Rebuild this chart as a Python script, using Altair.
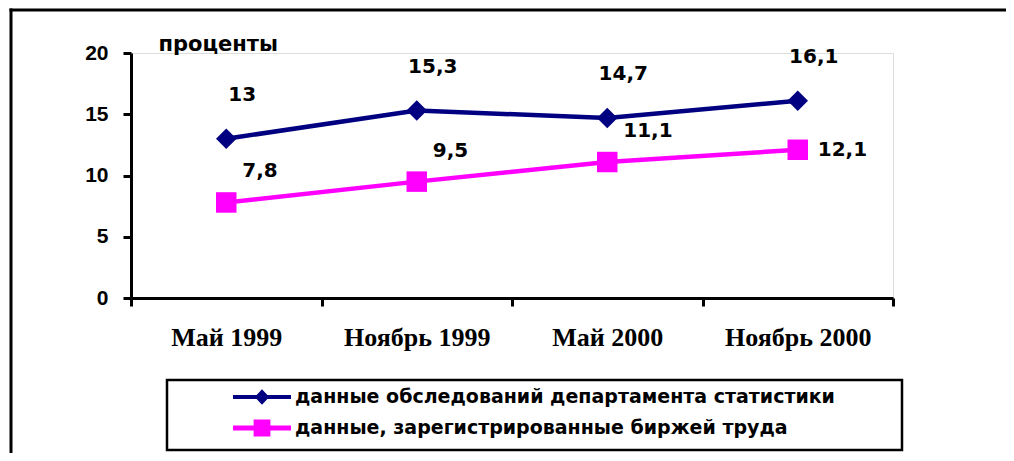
import altair as alt
import pandas as pd

months = ["Май 1999", "Ноябрь 1999", "Май 2000", "Ноябрь 2000"]
survey = [13, 15.3, 14.7, 16.1]
registered = [7.8, 9.5, 11.1, 12.1]
s1 = "данные обследований департамента статистики"
s2 = "данные, зарегистрированные биржей труда"
series_names = [s1, s2]
series_colors = ["#000080", "#FF00FF"]
y_ticks = [0, 5, 10, 15, 20]


def fmt(v):
    return str(v).replace(".", ",")


rows = []
for m, v in zip(months, survey):
    rows.append({"month": m, "value": v, "series": s1, "label": fmt(v)})
for m, v in zip(months, registered):
    rows.append({"month": m, "value": v, "series": s2, "label": fmt(v)})
df = pd.DataFrame(rows)

W, H = 762, 245

axis_style = dict(
    domainColor="black",
    domainWidth=3,
    tickColor="black",
    tickWidth=3,
    tickSize=8,
    grid=False,
)

x_enc = alt.X(
    "month:N",
    sort=months,
    bandPosition=0.5,
    scale=alt.Scale(type="band", paddingInner=0, paddingOuter=0),
    axis=alt.Axis(
        title=None,
        labelAngle=0,
        tickBand="extent",
        labelFont="Liberation Serif",
        labelFontWeight="bold",
        labelFontSize=26,
        labelColor="black",
        labelPadding=18,
        **axis_style,
    ),
)
y_enc = alt.Y(
    "value:Q",
    scale=alt.Scale(domain=[0, 20], nice=False),
    axis=alt.Axis(
        values=y_ticks,
        title="проценты",
        titleAngle=0,
        titleX=27,
        titleY=-3,
        titleAlign="left",
        titleBaseline="alphabetic",
        titleFont="DejaVu Sans",
        titleFontWeight="bold",
        titleFontSize=21,
        titleColor="black",
        labelFont="Liberation Sans",
        labelFontWeight="bold",
        labelFontSize=21,
        labelColor="black",
        labelPadding=15,
        **axis_style,
    ),
)
color_scale = alt.Scale(domain=series_names, range=series_colors)

base = alt.Chart(df)

lines = base.mark_line(strokeWidth=4.5).encode(
    x=x_enc,
    y=y_enc,
    color=alt.Color("series:N", scale=color_scale, legend=None),
    detail="series:N",
)

points = base.mark_point(filled=True, opacity=1, size=420).encode(
    x=x_enc,
    y=y_enc,
    color=alt.Color("series:N", scale=color_scale, legend=None),
    shape=alt.Shape(
        "series:N",
        scale=alt.Scale(domain=series_names, range=["diamond", "square"]),
        legend=None,
    ),
)

# legend symbols: line segment plus marker, in symbol units
path1 = "M-1,-0.07L1,-0.07L1,0.07L-1,0.07Z M0,-0.27L0.25,0L0,0.27L-0.25,0Z"
path2 = "M-1,-0.085L1,-0.085L1,0.085L-1,0.085Z M-0.29,-0.29L0.29,-0.29L0.29,0.29L-0.29,0.29Z"
legend_paths = [path1, path2]
legend_rows_y = [315, 346]

legend_common = dict(
    title=None,
    orient="none",
    legendX=102,
    padding=0,
    symbolSize=3364,
    symbolStrokeWidth=0,
    symbolOpacity=1,
    labelOffset=4,
    labelLimit=2000,
    labelFont="DejaVu Sans",
    labelFontWeight="bold",
    labelFontSize=19,
    labelColor="black",
)

legend_layers = []
for name, col, pth, ly in zip(series_names, series_colors, legend_paths, legend_rows_y):
    legend_layers.append(
        base.transform_filter(alt.datum.series == name)
        .mark_point(filled=True, opacity=0, size=10)
        .encode(
            x=x_enc,
            y=y_enc,
            color=alt.Color(
                "series:N",
                scale=alt.Scale(domain=[name], range=[col]),
                legend=alt.Legend(symbolType=pth, legendY=ly, **legend_common),
            ),
        )
    )

lbl_font = dict(font="DejaVu Sans", fontWeight="bold", fontSize=20, color="black")

labels_blue = base.transform_filter(alt.datum.series == s1).mark_text(
    dx=16, dy=-44, align="center", baseline="middle", **lbl_font
).encode(x=x_enc, y=y_enc, text="label:N")

labels_pink = base.transform_filter(
    (alt.datum.series == s2) & (alt.datum.month != months[-1])
).mark_text(dx=16, dy=-31, align="left", baseline="middle", **lbl_font).encode(
    x=x_enc, y=y_enc, text="label:N"
)

labels_pink_last = base.transform_filter(
    (alt.datum.series == s2) & (alt.datum.month == months[-1])
).mark_text(dx=20, dy=0, align="left", baseline="middle", **lbl_font).encode(
    x=x_enc, y=y_enc, text="label:N"
)

one = pd.DataFrame({"k": [0]})
frame_top = alt.Chart(one).mark_rule(stroke="black", strokeWidth=3).encode(
    x=alt.value(-121.5), x2=alt.value(1500), y=alt.value(-43), y2=alt.value(-43)
)
frame_left = alt.Chart(one).mark_rule(stroke="black", strokeWidth=3).encode(
    x=alt.value(-120), x2=alt.value(-120), y=alt.value(-44.5), y2=alt.value(600)
)

legend_box = alt.Chart(one).mark_rect(
    fill=None, stroke="black", strokeWidth=2.5
).encode(x=alt.value(36), y=alt.value(327), x2=alt.value(771), y2=alt.value(397))

chart = (
    alt.layer(frame_top, frame_left, legend_box, lines, points, *legend_layers,
              labels_blue, labels_pink, labels_pink_last)
    .resolve_scale(color="independent")
    .properties(
        width=W,
        height=H,
        padding={"left": 123, "top": 45, "right": 113, "bottom": 155},
        autosize=alt.AutoSizeParams(type="none"),
    )
    .configure_view(stroke=None)
    .configure(background="white")
)

chart.save("out.html", embed_options={"renderer": "svg", "actions": False})
